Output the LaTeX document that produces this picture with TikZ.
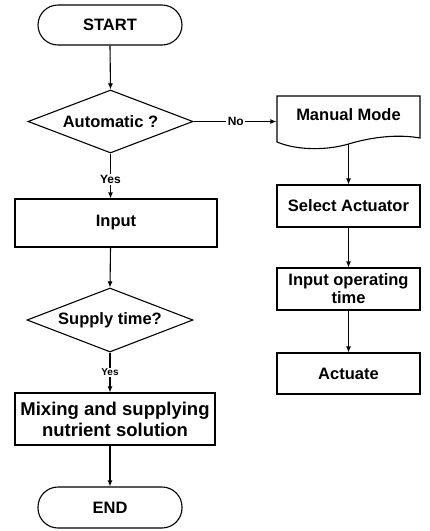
\documentclass[tikz,border=0pt]{standalone}
\usepackage{fontspec}
\setmainfont{Liberation Sans}
\usetikzlibrary{shapes.geometric,arrows.meta}
\begin{document}
\begin{tikzpicture}[x=1pt,y=-1pt,
  base/.style={draw, line width=1.1pt, font=\bfseries\fontsize{16.5}{18}\selectfont, align=center, inner sep=0pt},
  term/.style={base, rounded corners=20pt, minimum width=144pt, minimum height=40pt},
  proc/.style={base, minimum width=143pt, minimum height=42pt},
  dec/.style={base, diamond, aspect=2.6, minimum width=165pt, minimum height=63pt},
  arr/.style={line width=1.1pt, -{Latex[length=6pt,width=5pt]}},
  lab/.style={fill=white, inner sep=1.5pt, font=\bfseries\fontsize{12}{13}\selectfont},
  smalllab/.style={fill=white, inner sep=1.5pt, font=\bfseries\fontsize{10}{11}\selectfont}]
\useasboundingbox (0,0) rectangle (430,531);
% left column
\node[term] (start) at (110,25) {START};
\node[dec] (auto) at (110.5,121.5) {Automatic ?};
\node[base, minimum width=202pt, minimum height=48pt] (input) at (116,223) {Input};
\node[dec, minimum width=166pt, minimum height=64pt] (supply) at (110,320) {Supply time?};
\node[base, minimum width=200pt, minimum height=52pt, font=\bfseries\fontsize{18.5}{21}\selectfont] (mix) at (115,419) {Mixing and supplying\\nutrient solution};
\node[term, minimum height=41pt] (end) at (110,507.5) {END};
% right column
\node[base, draw=none, minimum width=143pt, minimum height=38pt] (manual) at (348.5,115) {Manual Mode};
\begin{scope}[shift={(manual.center)}]
  \draw[line width=1.1pt] (-71.5,27) -- (-71.5,-19) -- (71.5,-19) -- (71.5,23)
    .. controls (55,20) and (30,20) .. (0,29)
    .. controls (-20,35) and (-50,36) .. (-71.5,27);
  \coordinate (mbot) at (0,29);
\end{scope}
\node[proc] (sel) at (348.5,206) {Select Actuator};
\node[proc] (iot) at (348.5,289) {Input operating\\time};
\node[proc, minimum height=41pt] (act) at (348.5,373.5) {Actuate};
% connectors
\draw[arr] (start.south) -- (auto.north);
\draw[arr] (auto.south) -- (auto.south |- input.north) node[lab, pos=0.58] {Yes};
\draw[arr] (auto.south |- input.south) -- (supply.north);
\draw[arr] (supply.south) -- (supply.south |- mix.north) node[smalllab, pos=0.5] {Yes};
\draw[arr] (supply.south |- mix.south) -- (end.north);
\draw[arr] (auto.east) -- (auto.east -| manual.west) node[lab, pos=0.51] {No};
\draw[arr] (mbot) -- (sel.north);
\draw[arr] (sel.south) -- (iot.north);
\draw[arr] (iot.south) -- (act.north);
\end{tikzpicture}
\end{document}
